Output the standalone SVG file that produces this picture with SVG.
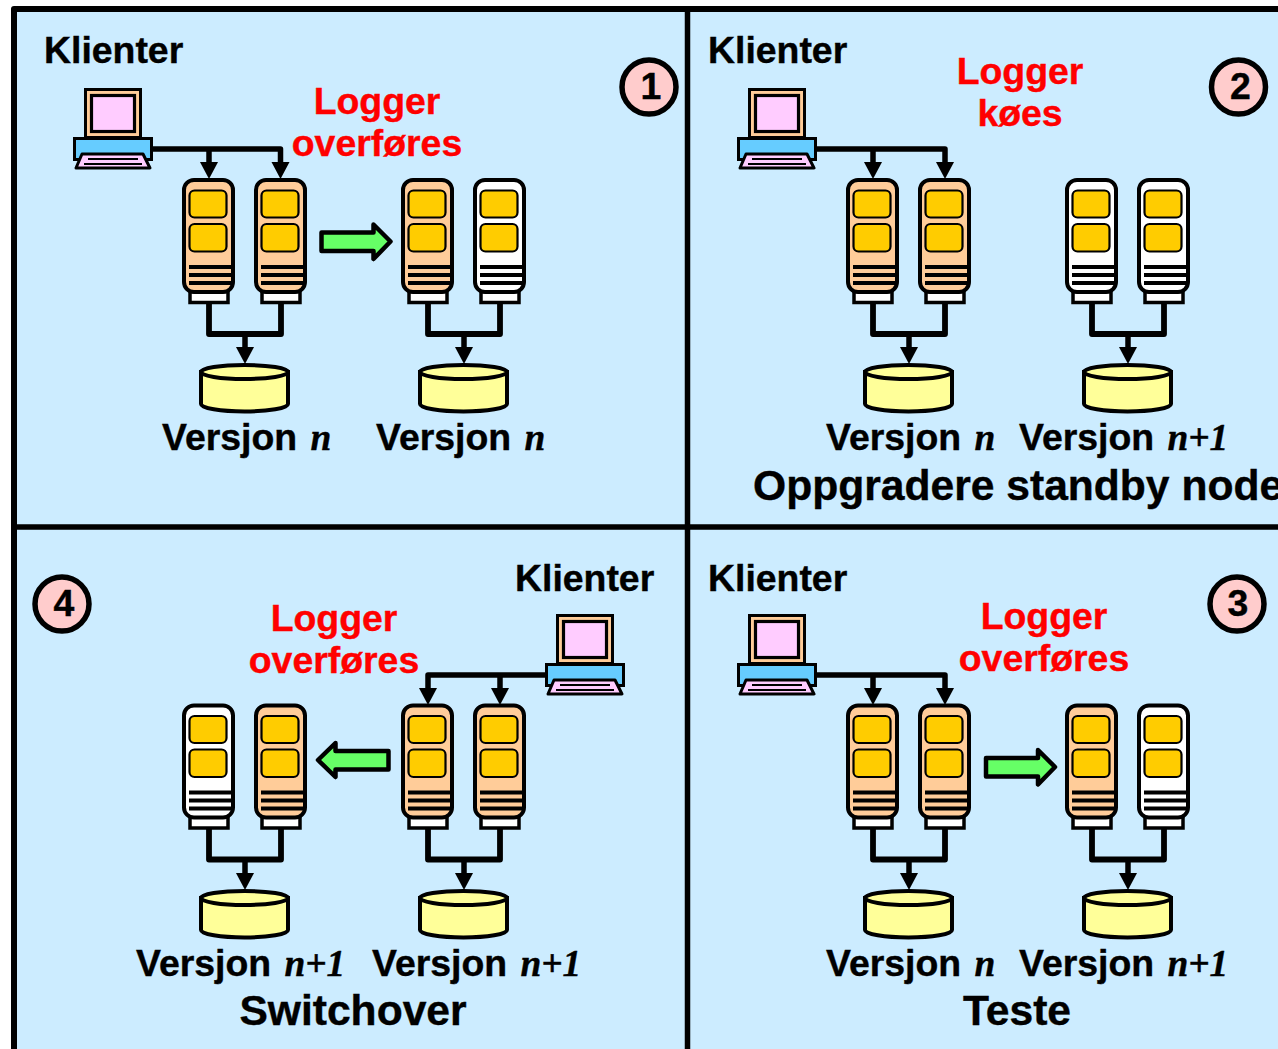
<svg xmlns="http://www.w3.org/2000/svg" width="1278" height="1049" viewBox="0 0 1278 1049">
<style>
text{font-family:"Liberation Sans",Arial,sans-serif;font-weight:bold;font-size:37.4px;fill:#000;stroke:#000;stroke-width:.4;word-spacing:3px}
.red{fill:#f00;stroke:#f00;text-anchor:middle}
.mid{text-anchor:middle}
.big{font-size:42.6px;word-spacing:0}
.n{font-family:"Liberation Serif","Times New Roman",serif;font-style:italic}
.conn{fill:none;stroke:#000;stroke-width:5.5;stroke-linejoin:round;marker-end:url(#head)}
.bus{fill:none;stroke:#000;stroke-width:5.8;stroke-linejoin:round}
.o{fill:#FFCC99}.w{fill:#fff}
.slot{fill:#FFCC00;stroke:#000;stroke-width:2.2}
.num{fill:#FFCCCC;stroke:#000;stroke-width:5.5}
.go{fill:#66FF66;stroke:#000;stroke-width:4.5;stroke-linejoin:round}
</style>
<defs>
<marker id="head" markerUnits="userSpaceOnUse" markerWidth="18" markerHeight="20" refX="0" refY="10" orient="auto"><path d="M0,1L17,10L0,19Z" fill="#000"/></marker>
<g id="server">
<rect x="190" y="291.5" width="38" height="11" fill="#fff" stroke="#000" stroke-width="3.5"/>
<rect x="184" y="180" width="49" height="112" rx="10" stroke="#000" stroke-width="4"/>
<rect class="slot" x="189.500" y="190.500" width="37" height="27" rx="5"/>
<rect class="slot" x="189.500" y="224" width="37" height="27.500" rx="5"/>
<path d="M189,267H231M189,275H231M189,283H231" stroke="#000" stroke-width="3.800" fill="none"/>
</g>
<g id="db">
<path d="M201,372V404A43.500,7.500 0 0 0 288,404V372Z" fill="#FFFF99" stroke="#000" stroke-width="4"/>
<ellipse cx="244.500" cy="372" rx="43.500" ry="7" fill="#FFFF99" stroke="#000" stroke-width="4"/>
</g>
<g id="pc">
<rect x="85.500" y="89.500" width="55" height="48" fill="#FFCC99" stroke="#000" stroke-width="3"/>
<rect x="91.500" y="95.500" width="43" height="36" fill="#FFCCFF" stroke="#000" stroke-width="3.200"/>
<rect x="74.500" y="138.500" width="77" height="21" fill="#66CCFF" stroke="#000" stroke-width="3"/>
<path d="M82,154H143L150,168H76Z" fill="#FFCCFF" stroke="#000" stroke-width="3" stroke-linejoin="round"/>
<path d="M88,159H138M84,164H142" stroke="#000" stroke-width="2"/>
</g>
</defs>

<g id="frame">
<rect x="14" y="9" width="1300" height="1080" fill="#CCECFF" stroke="#000" stroke-width="6" stroke-linejoin="round"/>
<path d="M687.500,9V1049M14,527H1278" fill="none" stroke="#000" stroke-width="5.500"/>
</g>

<g id="connectors">
<path class="conn" d="M152,149H280.500V162"/><path class="conn" d="M209,149V162"/>
<path class="bus" d="M209,304V334H281V304"/><path class="conn" d="M245,334V347"/>
<path class="bus" d="M428,304V334H500V304"/><path class="conn" d="M464,334V347"/>
<path class="conn" d="M816,149H945V162"/><path class="conn" d="M873,149V162"/>
<path class="bus" d="M873,304V334H945V304"/><path class="conn" d="M909,334V347"/>
<path class="bus" d="M1092,304V334H1164V304"/><path class="conn" d="M1128,334V347"/>
<path class="conn" d="M816,675H945V688"/><path class="conn" d="M873,675V688"/>
<path class="bus" d="M873,829V859.500H945V829"/><path class="conn" d="M909,859V873"/>
<path class="bus" d="M1092,829V859.500H1164V829"/><path class="conn" d="M1128,859V873"/>
<path class="conn" d="M546,675H428V688"/><path class="conn" d="M500,675V688"/>
<path class="bus" d="M209,829V859.500H281V829"/><path class="conn" d="M245,859V873"/>
<path class="bus" d="M428,829V859.500H500V829"/><path class="conn" d="M464,859V873"/>
</g>

<g id="pc1"><use href="#pc"/></g>
<g id="s1a"><use href="#server" class="o"/></g>
<g id="s1b"><use href="#server" class="o" x="72"/></g>
<g id="s1c"><use href="#server" class="o" x="219"/></g>
<g id="s1d"><use href="#server" class="w" x="291"/></g>
<g id="db1a"><use href="#db"/></g>
<g id="db1b"><use href="#db" x="219"/></g>
<g id="flow1"><path class="go" d="M321.500,232.500H373.500V224.500L390.500,241.500L373.500,259V251H321.500Z"/></g>

<g id="pc2"><use href="#pc" x="664"/></g>
<g id="s2a"><use href="#server" class="o" x="664"/></g>
<g id="s2b"><use href="#server" class="o" x="736"/></g>
<g id="s2c"><use href="#server" class="w" x="883"/></g>
<g id="s2d"><use href="#server" class="w" x="955"/></g>
<g id="db2a"><use href="#db" x="664"/></g>
<g id="db2b"><use href="#db" x="883"/></g>

<g id="pc3"><use href="#pc" x="664" y="526"/></g>
<g id="s3a"><use href="#server" class="o" x="664" y="525.500"/></g>
<g id="s3b"><use href="#server" class="o" x="736" y="525.500"/></g>
<g id="s3c"><use href="#server" class="o" x="883" y="525.500"/></g>
<g id="s3d"><use href="#server" class="w" x="955" y="525.500"/></g>
<g id="db3a"><use href="#db" x="664" y="526"/></g>
<g id="db3b"><use href="#db" x="883" y="526"/></g>
<g id="flow3"><path class="go" d="M986,758H1038V750L1055,767L1038,784.500V776.500H986Z"/></g>

<g id="pc4"><use href="#pc" x="472" y="526"/></g>
<g id="s4a"><use href="#server" class="w" y="525.500"/></g>
<g id="s4b"><use href="#server" class="o" x="72" y="525.500"/></g>
<g id="s4c"><use href="#server" class="o" x="219" y="525.500"/></g>
<g id="s4d"><use href="#server" class="o" x="291" y="525.500"/></g>
<g id="db4a"><use href="#db" y="526"/></g>
<g id="db4b"><use href="#db" x="219" y="526"/></g>
<g id="flow4"><path class="go" d="M388.500,751H335.500V743L318,760L335.500,777V769.500H388.500Z"/></g>

<g id="badge1"><circle class="num" cx="649" cy="87" r="27"/><text class="mid" x="651" y="99">1</text></g>
<g id="badge2"><circle class="num" cx="1238.500" cy="87" r="27"/><text class="mid" x="1240.500" y="99">2</text></g>
<g id="badge3"><circle class="num" cx="1237" cy="604" r="27"/><text class="mid" x="1238" y="616">3</text></g>
<g id="badge4"><circle class="num" cx="62" cy="604" r="27"/><text class="mid" x="64" y="616">4</text></g>

<g id="labels">
<text x="44" y="63">Klienter</text>
<text class="red" x="377" y="114">Logger</text>
<text class="red" x="377" y="156">overføres</text>
<text x="162" y="450">Versjon <tspan class="n">n</tspan></text>
<text x="376" y="450">Versjon <tspan class="n">n</tspan></text>

<text x="708" y="63">Klienter</text>
<text class="red" x="1020" y="84">Logger</text>
<text class="red" x="1020" y="126">køes</text>
<text x="826" y="450">Versjon <tspan class="n">n</tspan></text>
<text x="1019" y="450">Versjon <tspan class="n">n+1</tspan></text>
<text class="big" x="753" y="500">Oppgradere standby node</text>

<text x="708" y="591">Klienter</text>
<text class="red" x="1044" y="629">Logger</text>
<text class="red" x="1044" y="671">overføres</text>
<text x="826" y="976">Versjon <tspan class="n">n</tspan></text>
<text x="1019" y="976">Versjon <tspan class="n">n+1</tspan></text>
<text class="big mid" x="1017" y="1025">Teste</text>

<text x="515" y="591">Klienter</text>
<text class="red" x="334" y="631">Logger</text>
<text class="red" x="334" y="673">overføres</text>
<text x="136" y="976">Versjon <tspan class="n">n+1</tspan></text>
<text x="372" y="976">Versjon <tspan class="n">n+1</tspan></text>
<text class="big mid" x="353" y="1025">Switchover</text>
</g>
</svg>
